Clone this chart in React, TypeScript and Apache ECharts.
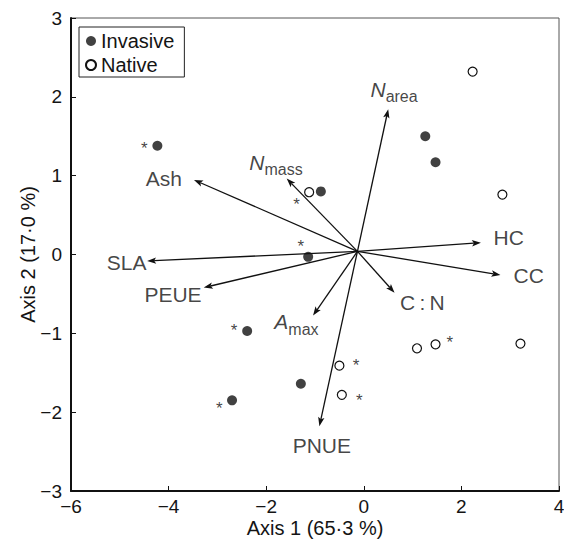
import React, { useEffect, useRef } from 'react';
import * as echarts from 'echarts';

const FONT = '"Liberation Sans", Arial, Helvetica, sans-serif';
const TEXT = '#141414';

// Axis tick values
const xTicks = [-6, -4, -2, 0, 2, 4];
const yTicks = [-3, -2, -1, 0, 1, 2, 3];
const xTitle = 'Axis 1 (65·3 %)';
const yTitle = 'Axis 2 (17·0 %)';

// Species scores
const invasive = [
  [-4.23, 1.38], [-0.88, 0.8], [-1.14, -0.03], [1.26, 1.5],
  [1.47, 1.17], [-2.39, -0.97], [-1.29, -1.64], [-2.7, -1.85],
];
const native = [
  [2.23, 2.32], [-1.12, 0.79], [2.84, 0.76], [-0.5, -1.41],
  [-0.45, -1.78], [1.09, -1.19], [1.47, -1.14], [3.21, -1.13],
];
// Asterisk markers
const asterisks = [
  [-4.5, 1.39], [-1.38, 0.69], [-1.29, 0.155], [-2.66, -0.908],
  [-2.96, -1.9], [-0.16, -1.36], [-0.09, -1.806], [1.76, -1.064],
];

// Trait vectors
const vectorOrigin = [-0.13, 0.04];
const vectorNames = ['HC', 'CC', 'C:N', 'Narea', 'Ash', 'Nmass', 'SLA', 'PEUE', 'Amax', 'PNUE'];
const vectorTips = [
  [2.4, 0.15], [2.8, -0.26], [0.63, -0.485], [0.5, 1.844], [-3.48, 0.946],
  [-1.58, 0.963], [-4.44, -0.083], [-3.28, -0.42], [-1.04, -0.775], [-0.91, -2.178],
];
const vectorLabelPos = [
  [2.97, 0.21], [3.38, -0.27], [1.2, -0.61], [0.62, 2.0], [-4.1, 0.97],
  [-1.8, 1.073], [-4.86, -0.1], [-3.91, -0.51], [-1.38, -0.95], [-0.86, -2.42],
];
const vectorLabelText: Record<string, string> = {
  'C:N': 'C\u2009:\u2009N',
  Narea: '{it|N}{sub|area}',
  Nmass: '{it|N}{sub|mass}',
  Amax: '{it|A}{sub|max}',
};

const minus = (v: number) => (v < 0 ? '\u2212' + Math.abs(v) : String(v));

export default function App() {
  const ref = useRef<HTMLDivElement>(null);
  useEffect(() => {
    if (!ref.current) return;
    const chart = echarts.init(ref.current, null, { renderer: 'svg' });
    const arrowData = vectorTips.map((t) => [vectorOrigin[0], vectorOrigin[1], t[0], t[1]]);
    const labelData = vectorLabelPos.map((p, i) => ({
      value: p,
      name: vectorNames[i],
    }));
    chart.setOption({
      animation: false,
      textStyle: { fontFamily: FONT, color: TEXT },
      grid: {
        left: 71, right: 5, top: 18, bottom: 54,
        show: true, borderColor: '#555', borderWidth: 1,
        containLabel: false, outerBoundsMode: 'none',
      },
      legend: {
        data: ['Invasive', 'Native'],
        orient: 'vertical',
        left: 79, top: 27,
        padding: [4, 10, 2, 6],
        itemGap: 4,
        itemWidth: 10, itemHeight: 10,
        icon: 'circle',
        borderColor: '#222', borderWidth: 1,
        selectedMode: false,
        textStyle: { fontSize: 20, lineHeight: 20, color: TEXT, fontFamily: FONT },
      },
      xAxis: {
        type: 'value', min: xTicks[0], max: xTicks[xTicks.length - 1], interval: 2,
        splitLine: { show: false },
        axisLine: { show: true, onZero: false, lineStyle: { color: '#111', width: 2 } },
        axisTick: { show: true, inside: true, length: 5, lineStyle: { color: '#111', width: 1 } },
        axisLabel: { fontSize: 19, color: TEXT, margin: 6, formatter: minus, fontFamily: FONT },
        name: xTitle, nameLocation: 'middle', nameGap: 27, nameMoveOverlap: false,
        nameTextStyle: { fontSize: 20, color: TEXT, fontFamily: FONT },
      },
      yAxis: {
        type: 'value', min: yTicks[0], max: yTicks[yTicks.length - 1], interval: 1,
        splitLine: { show: false },
        axisLine: { show: true, onZero: false, lineStyle: { color: '#111', width: 2 } },
        axisTick: { show: true, inside: true, length: 5, lineStyle: { color: '#111', width: 1 } },
        axisLabel: { fontSize: 19, color: TEXT, margin: 9, formatter: minus, fontFamily: FONT },
        name: yTitle, nameLocation: 'middle', nameGap: 33, nameMoveOverlap: false,
        nameTextStyle: { fontSize: 20, color: TEXT, fontFamily: FONT },
      },
      series: [
        {
          type: 'custom',
          name: 'vectors',
          data: arrowData,
          encode: { x: [0, 2], y: [1, 3] },
          silent: true,
          z: 3,
          renderItem: (_p: any, api: any) => {
            const p0 = api.coord([api.value(0), api.value(1)]);
            const p1 = api.coord([api.value(2), api.value(3)]);
            const dx = p1[0] - p0[0];
            const dy = p1[1] - p0[1];
            const len = Math.hypot(dx, dy) || 1;
            const ux = dx / len, uy = dy / len;
            const L = 9, W = 3.2;
            const bx = p1[0] - ux * L, by = p1[1] - uy * L;
            const nx = p1[0] - ux * L * 0.78, ny = p1[1] - uy * L * 0.78;
            return {
              type: 'group',
              children: [
                {
                  type: 'line',
                  shape: { x1: p0[0], y1: p0[1], x2: nx, y2: ny },
                  style: { stroke: '#111', lineWidth: 1.3 },
                },
                {
                  type: 'polygon',
                  shape: {
                    points: [
                      [p1[0], p1[1]],
                      [bx - uy * W, by + ux * W],
                      [nx, ny],
                      [bx + uy * W, by - ux * W],
                    ],
                  },
                  style: { fill: '#111' },
                },
              ],
            };
          },
        },
        {
          type: 'scatter',
          name: 'labels',
          data: labelData,
          symbolSize: 0,
          silent: true,
          z: 4,
          label: {
            show: true,
            position: 'inside',
            fontSize: 21,
            color: TEXT,
            fontFamily: FONT,
            formatter: (p: any) => vectorLabelText[p.name] ?? p.name,
            rich: {
              it: { fontSize: 21, fontStyle: 'italic', lineHeight: 21, verticalAlign: 'top', color: TEXT, fontFamily: FONT },
              sub: { fontSize: 16, lineHeight: 36, color: TEXT, fontFamily: FONT },
            },
          },
        },
        {
          type: 'scatter',
          name: 'Invasive',
          data: invasive,
          symbol: 'circle',
          symbolSize: 10,
          z: 5,
          itemStyle: { color: '#111', borderColor: '#111', borderWidth: 0 },
        },
        {
          type: 'scatter',
          name: 'Native',
          data: native,
          symbol: 'circle',
          symbolSize: 9,
          z: 5,
          itemStyle: { color: '#fff', borderColor: '#111', borderWidth: 1.2, opacity: 1 },
        },
        {
          type: 'scatter',
          name: 'asterisks',
          data: asterisks,
          symbolSize: 0,
          silent: true,
          z: 5,
          label: {
            show: true,
            position: 'inside',
            formatter: '*',
            fontSize: 17,
            color: '#111',
            fontFamily: FONT,
            offset: [0, 4],
          },
        },
      ],
    });
    return () => chart.dispose();
  }, []);
  return (
    <div
      ref={ref}
      style={{ position: 'absolute', left: 0, top: 0, width: 564, height: 545, background: '#fff' }}
    />
  );
}
